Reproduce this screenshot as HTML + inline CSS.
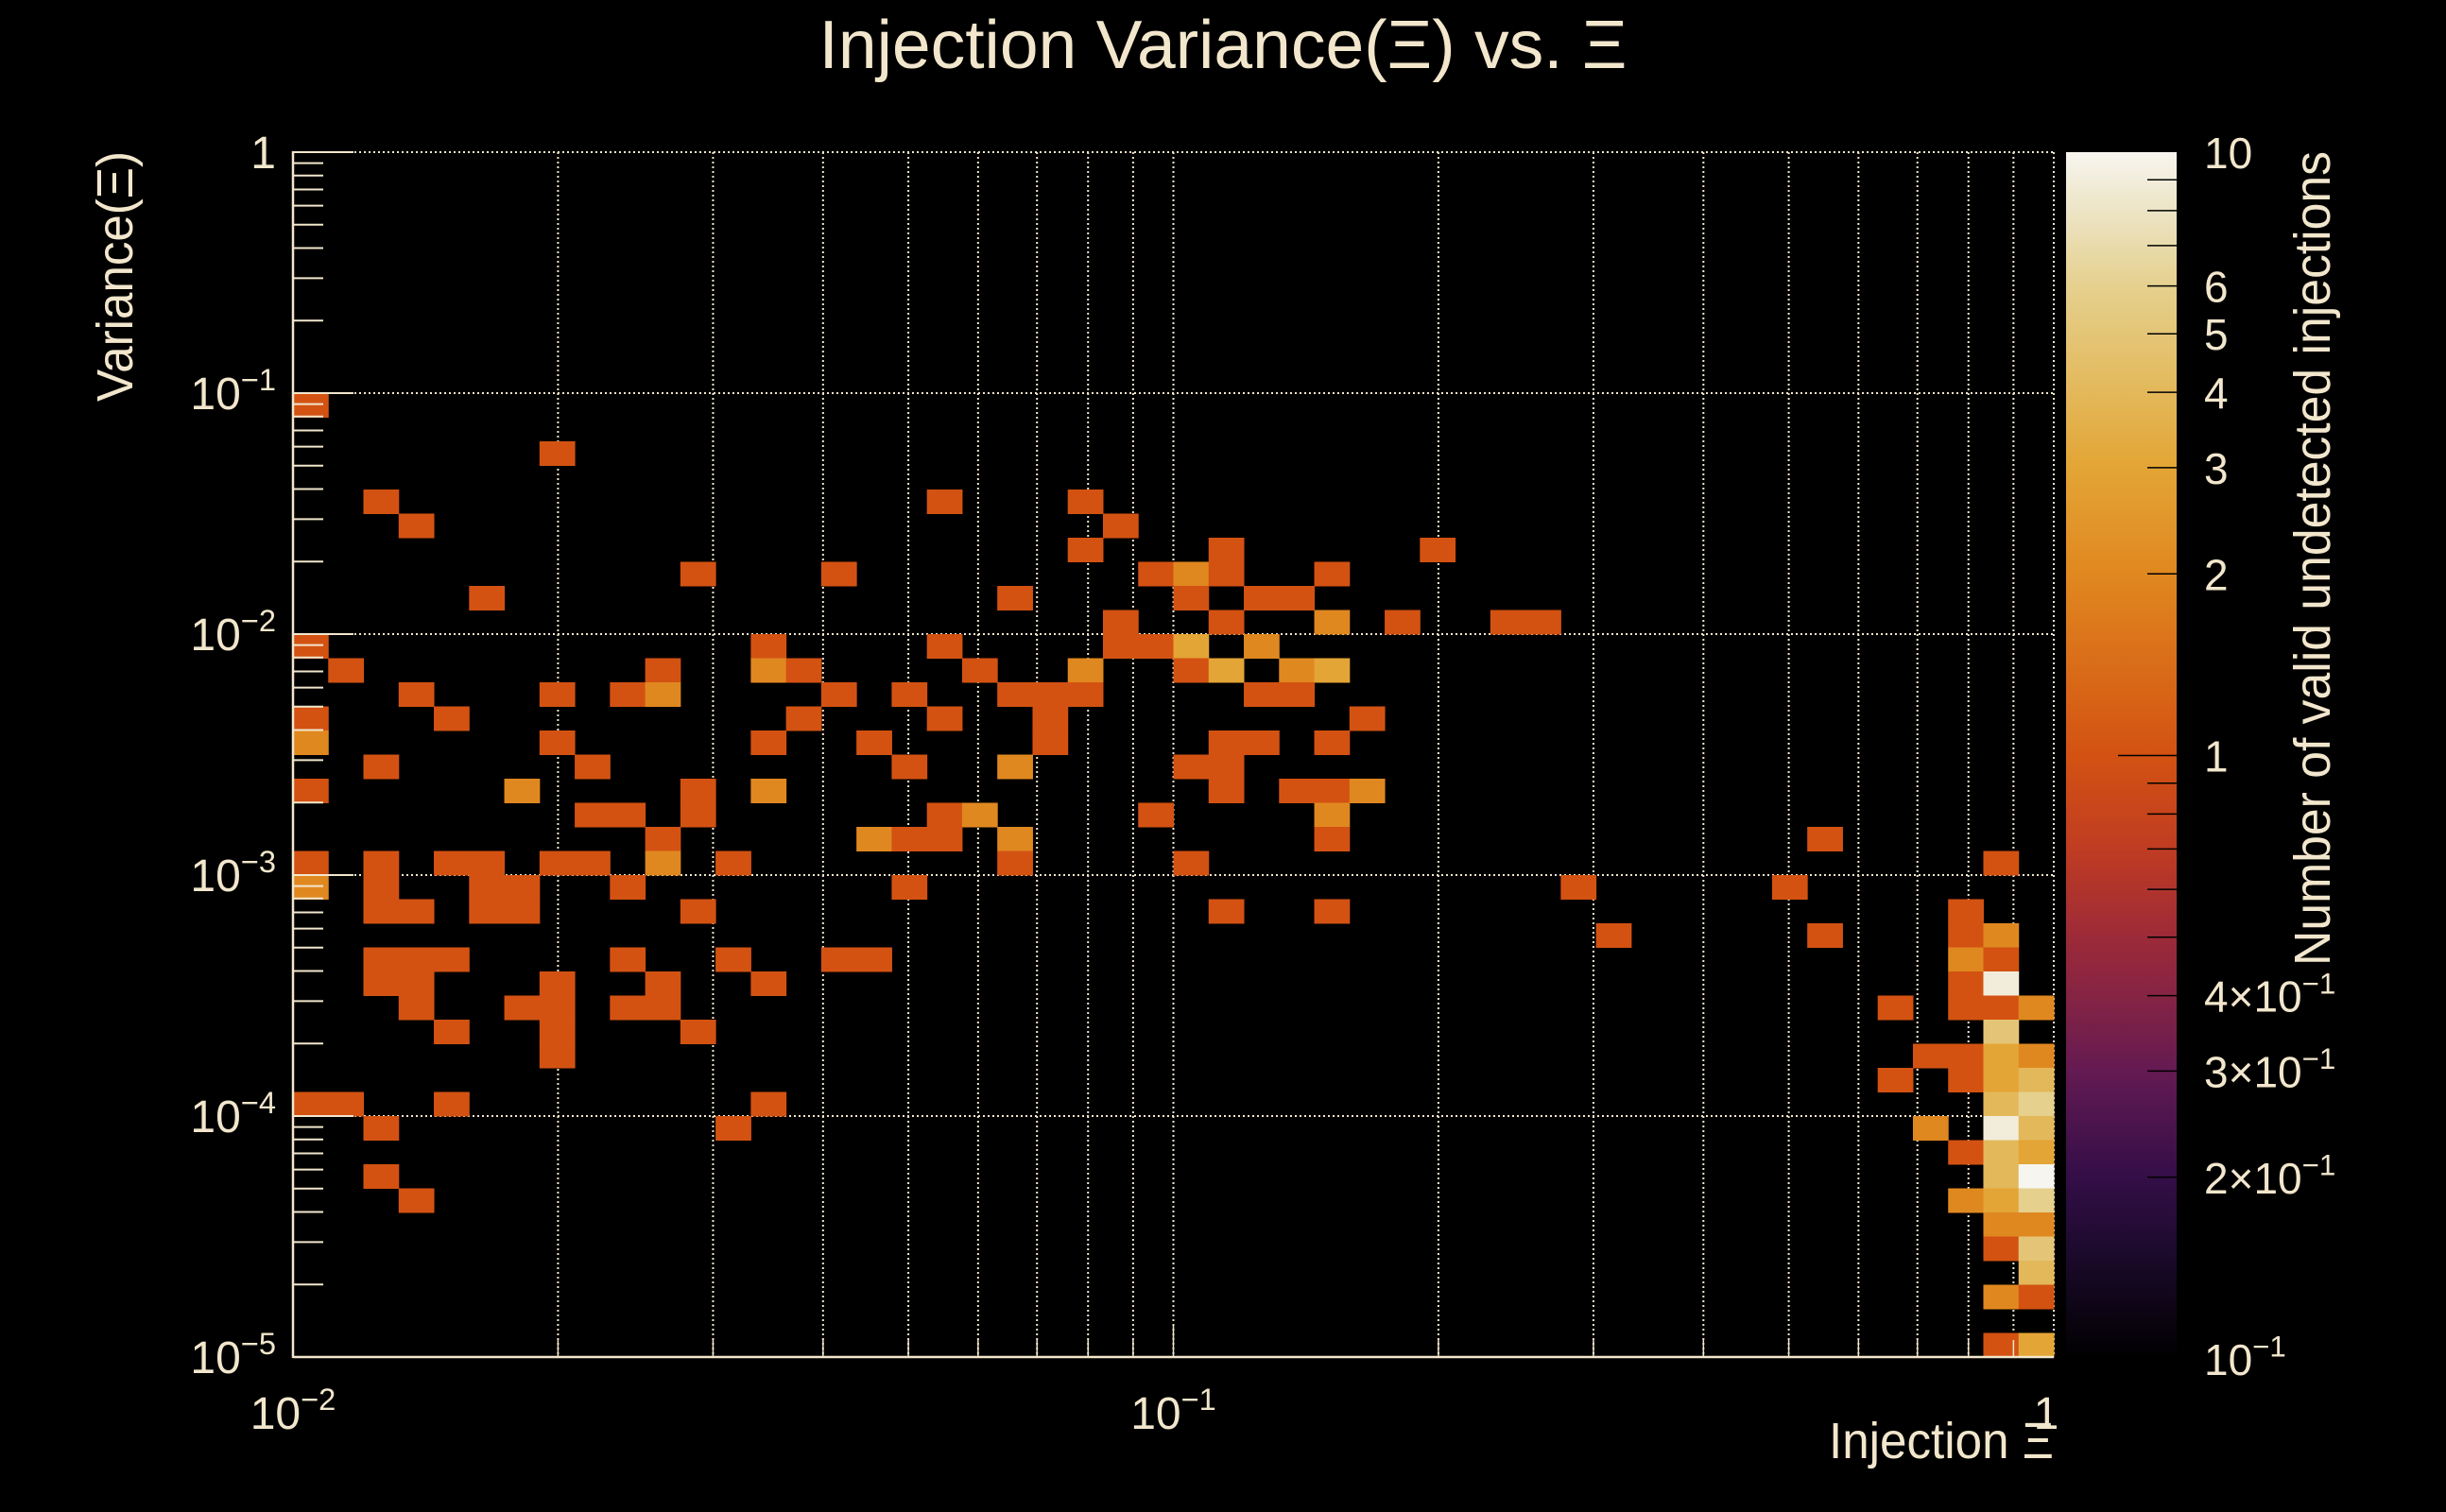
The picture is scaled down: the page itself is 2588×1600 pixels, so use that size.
<!DOCTYPE html>
<html><head><meta charset="utf-8"><title>Injection Variance vs Xi</title>
<style>html,body{margin:0;padding:0;background:#000;}svg{display:block;}text{font-family:"Liberation Sans",sans-serif;fill:#f2e6cc;}</style>
</head><body>
<svg id="chart" width="2588" height="1600" viewBox="0 0 2588 1600" xmlns="http://www.w3.org/2000/svg">
<rect x="0" y="0" width="2588" height="1600" fill="#000"/>
<defs><linearGradient id="cbgrad" x1="0" y1="1" x2="0" y2="0"></linearGradient></defs>
<g id="grid"></g>
<g id="cells"></g>
<g id="axes"></g>
<g id="colorbar"></g>
<text x="1294" y="72" font-size="72" text-anchor="middle" textLength="855" lengthAdjust="spacingAndGlyphs">Injection Variance(Ξ) vs. Ξ</text>
<text transform="translate(140,425) rotate(-90)" font-size="54" textLength="265" lengthAdjust="spacingAndGlyphs">Variance(Ξ)</text>
<text x="2173" y="1543" font-size="54" text-anchor="end" textLength="238" lengthAdjust="spacingAndGlyphs">Injection Ξ</text>
<text transform="translate(2465,1022) rotate(-90)" font-size="54" textLength="862" lengthAdjust="spacingAndGlyphs">Number of valid undetected injections</text>
</svg>
<script>
// ---- data ----
const binCol = [0,7,2,18,22,3,23,22,26,32,11,15,24,25,26,29,5,20,25,27,28,23,26,29,31,34,35,
0,13,18,23,24,25,27,1,10,13,14,19,22,25,26,28,29,
3,7,9,10,15,17,20,21,22,27,28,0,4,14,18,21,30,
0,7,13,16,21,26,27,29,2,8,17,20,25,26,0,6,11,13,26,28,29,30,
8,9,11,18,19,24,29,10,16,17,18,20,29,43,0,2,4,5,7,8,10,12,20,25,48,
0,2,5,6,9,17,36,42,2,3,5,6,11,26,29,47,37,43,47,48,
2,3,4,9,12,15,16,47,48,2,3,7,10,13,47,48,3,6,7,9,10,45,47,48,49,
4,7,11,48,7,46,47,48,49,45,47,48,49,0,1,4,13,48,49,
2,12,46,48,49,47,48,49,2,48,49,3,47,48,49,48,49,48,49,49,48,49,48,49];
const binRow = [39,37,35,35,35,34,34,33,33,33,32,32,32,32,32,32,31,31,31,31,31,30,30,30,30,30,30,
29,29,29,29,29,29,29,28,28,28,28,28,28,28,28,28,28,
27,27,27,27,27,27,27,27,27,27,27,26,26,26,26,26,26,
25,25,25,25,25,25,25,25,24,24,24,24,24,24,23,23,23,23,23,23,23,23,
22,22,22,22,22,22,22,21,21,21,21,21,21,21,20,20,20,20,20,20,20,20,20,20,20,
19,19,19,19,19,19,19,19,18,18,18,18,18,18,18,18,17,17,17,17,
16,16,16,16,16,16,16,16,16,15,15,15,15,15,15,15,14,14,14,14,14,14,14,14,14,
13,13,13,13,12,12,12,12,12,11,11,11,11,10,10,10,10,10,10,
9,9,9,9,9,8,8,8,7,7,7,6,6,6,6,5,5,4,4,3,2,2,0,0];
const binCount = [1,1,1,1,1,1,1,1,1,1,1,1,1,2,1,1,1,1,1,1,1,1,1,2,1,1,1,
1,1,1,1,1,3,2,1,1,2,1,1,2,1,3,2,3,
1,1,1,2,1,1,1,1,1,1,1,1,1,1,1,1,1,
2,1,1,1,1,1,1,1,1,1,1,2,1,1,1,2,1,2,1,1,1,2,
1,1,1,1,2,1,2,1,2,1,1,2,1,1,1,1,1,1,1,1,2,1,1,1,1,
2,1,1,1,1,1,1,1,1,1,1,1,1,1,1,1,1,1,1,2,
1,1,1,1,1,1,1,2,1,1,1,1,1,1,1,9,1,1,1,1,1,1,1,1,2,
1,1,1,5,1,1,1,3,2,1,1,3,4,1,1,1,1,4,6,
1,1,2,9,4,1,4,3,1,4,10,1,2,3,6,2,2,1,5,4,2,1,1,3];
const xTickLabels = ["10", "10", "1"];
const xTickExps = ["−2", "−1", ""];
const xTickValues = [0.01, 0.1, 1];
const yTickValues = [1, 0.1, 0.01, 0.001, 0.0001, 0.00001];
const yTickExps = ["", "−1", "−2", "−3", "−4", "−5"];
const cbTickValues = [10, 6, 5, 4, 3, 2, 1, 0.4, 0.3, 0.2, 0.1];
const cbTickMant = ["10", "6", "5", "4", "3", "2", "1", "4×10", "3×10", "2×10", "10"];
const cbTickExps = ["", "", "", "", "", "", "", "−1", "−1", "−1", "−1"];

// ---- layout ----
const NS = "http://www.w3.org/2000/svg";
const X0 = 310, X1 = 2173, Y0 = 161, Y1 = 1436;
const CBX0 = 2186, CBX1 = 2303, CBY0 = 161, CBY1 = 1438;
const XMIN = -2, XMAX = 0, YMIN = -5, YMAX = 0, ZMIN = -1, ZMAX = 1;
const NXB = 50, NYB = 50;
const cream = "#f2e6cc";
function xScale(v){ return X0 + (Math.log10(v) - XMIN) / (XMAX - XMIN) * (X1 - X0); }
function yScale(v){ return Y1 - (Math.log10(v) - YMIN) / (YMAX - YMIN) * (Y1 - Y0); }
function zScale(v){ return CBY1 - (Math.log10(v) - ZMIN) / (ZMAX - ZMIN) * (CBY1 - CBY0); }
function xEdge(c){ return Math.pow(10, XMIN + c * (XMAX - XMIN) / NXB); }
function yEdge(r){ return Math.pow(10, YMIN + r * (YMAX - YMIN) / NYB); }
const stops = [[0,[0,0,0]],[0.088,[28,10,44]],[0.151,[52,14,72]],[0.239,[100,26,82]],[0.301,[134,36,68]],[0.349,[156,42,56]],[0.423,[192,60,34]],[0.5,[211,82,18]],[0.651,[224,136,32]],[0.739,[227,165,53]],[0.801,[227,184,90]],[0.889,[229,208,142]],[0.95,[236,228,196]],[1,[247,245,239]]];
function colorAt(t){
  t = Math.max(0, Math.min(1, t));
  for (let i = 1; i < stops.length; i++) {
    if (t <= stops[i][0]) {
      const a = stops[i-1], b = stops[i], f = (t - a[0]) / (b[0] - a[0]);
      const c = a[1].map((v, k) => Math.round(v + (b[1][k] - v) * f));
      return "rgb(" + c.join(",") + ")";
    }
  }
  return "rgb(247,245,239)";
}
function zColor(v){ return colorAt((Math.log10(v) - ZMIN) / (ZMAX - ZMIN)); }
function mk(tag, attrs, parent){
  const e = document.createElementNS(NS, tag);
  for (const k in attrs) e.setAttribute(k, attrs[k]);
  parent.appendChild(e);
  return e;
}
function labelWithExp(parent, x, y, mant, exp, size, anchor){
  const t = mk("text", {x: x, y: y, "font-size": size, "text-anchor": anchor}, parent);
  const s1 = document.createElementNS(NS, "tspan"); s1.textContent = mant; t.appendChild(s1);
  if (exp) {
    const s2 = document.createElementNS(NS, "tspan");
    s2.setAttribute("dy", -size * 0.42); s2.setAttribute("font-size", size * 0.68);
    s2.textContent = exp; t.appendChild(s2);
  }
  return t;
}

// ---- grid ----
const grid = document.getElementById("grid");
for (let d = XMIN; d < XMAX; d++) {
  for (let m = 1; m <= 9; m++) {
    const v = m * Math.pow(10, d);
    const l = mk("line", {x1: xScale(v), x2: xScale(v), y1: Y0, y2: Y1, stroke: cream, "stroke-width": 2, "stroke-dasharray": "2 3"}, grid);
    
    
  }
}
{
  const l = mk("line", {x1: X1, x2: X1, y1: Y0, y2: Y1, stroke: cream, "stroke-width": 2, "stroke-dasharray": "2 3"}, grid);
  
  
}
for (const v of yTickValues) {
  const l = mk("line", {x1: X0, x2: X1, y1: yScale(v), y2: yScale(v), stroke: cream, "stroke-width": 2, "stroke-dasharray": "2 3"}, grid);
  
  
}

// ---- cells ----
const cells = document.getElementById("cells");
for (let i = 0; i < binCol.length; i++) {
  const c = binCol[i], r = binRow[i];
  const xa = xScale(xEdge(c)), xb = xScale(xEdge(c + 1));
  const ya = yScale(yEdge(r + 1)), yb = yScale(yEdge(r));
  const rc = mk("rect", {x: xa, y: ya, width: xb - xa + 0.5, height: yb - ya + 0.5, fill: zColor(binCount[i])}, cells);
  
  
}

// ---- axes ----
const axes = document.getElementById("axes");
{
  const l1 = mk("line", {x1: X0, x2: X0, y1: Y0 - 1, y2: Y1 + 1, stroke: cream, "stroke-width": 2.5}, axes);
  
  
  const l2 = mk("line", {x1: X0, x2: X1, y1: Y1, y2: Y1, stroke: cream, "stroke-width": 2.5}, axes);
  
  
}
for (let d = YMIN; d < YMAX; d++) {
  for (let m = 1; m <= 9; m++) {
    const v = m * Math.pow(10, d);
    const len = m === 1 ? 64 : 32;
    const t = mk("line", {x1: X0, x2: X0 + len, y1: yScale(v), y2: yScale(v), stroke: cream, "stroke-width": 2}, axes);
    
    
  }
}
{
  const t = mk("line", {x1: X0, x2: X0 + 64, y1: Y0, y2: Y0, stroke: cream, "stroke-width": 2}, axes);
  
  
}
for (let d = XMIN; d < XMAX; d++) {
  for (let m = 1; m <= 9; m++) {
    const v = m * Math.pow(10, d);
    const len = m === 1 ? 35 : 18;
    const t = mk("line", {x1: xScale(v), x2: xScale(v), y1: Y1, y2: Y1 - len, stroke: cream, "stroke-width": 1.5}, axes);
    
    
  }
}
for (let i = 0; i < yTickValues.length; i++) {
  const v = yTickValues[i];
  const lab = labelWithExp(axes, 292, yScale(v) + 17, yTickExps[i] ? "10" : "1", yTickExps[i], 48, "end");
  
  
}
for (let i = 0; i < xTickValues.length; i++) {
  const v = xTickValues[i];
  const lab = labelWithExp(axes, xScale(v) + (xTickExps[i] ? 0 : -8), 1512, xTickLabels[i], xTickExps[i], 48, "middle");
  
  
}

// ---- colorbar ----
const cb = document.getElementById("colorbar");
const grad = document.getElementById("cbgrad");
for (const s of stops) {
  mk("stop", {offset: s[0], "stop-color": colorAt(s[0])}, grad);
}
{
  const r = mk("rect", {x: CBX0, y: CBY0, width: CBX1 - CBX0, height: CBY1 - CBY0, fill: "url(#cbgrad)"}, cb);
  
  
}
for (let d = ZMIN; d < ZMAX; d++) {
  for (let m = 1; m <= 9; m++) {
    if (d === ZMIN && m === 1) continue;
    const v = m * Math.pow(10, d);
    const len = m === 1 ? 62 : 31;
    const t = mk("line", {x1: CBX1 - len, x2: CBX1, y1: zScale(v), y2: zScale(v), stroke: "#000", "stroke-width": 1.5}, cb);
    
    
  }
}
for (let i = 0; i < cbTickValues.length; i++) {
  const v = cbTickValues[i];
  const lab = labelWithExp(cb, 2332, zScale(v) + 17, cbTickMant[i], cbTickExps[i], 46, "start");
  
  
}
</script>
</body></html>
